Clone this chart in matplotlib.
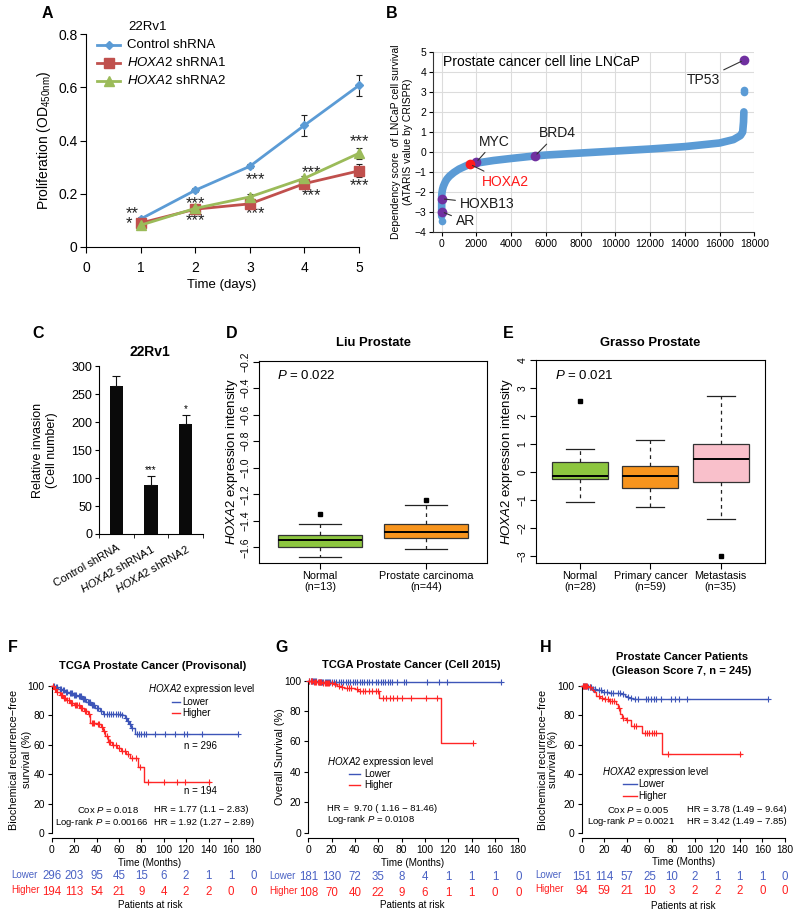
import numpy as np
import matplotlib
matplotlib.use('Agg')
import matplotlib.pyplot as plt
from matplotlib.lines import Line2D
from matplotlib.transforms import blended_transform_factory

plt.rcParams['font.family'] = ['Liberation Sans', 'DejaVu Sans']
plt.rcParams['mathtext.fontset'] = 'custom'
plt.rcParams['mathtext.rm'] = 'Liberation Sans'
plt.rcParams['mathtext.it'] = 'Liberation Sans:italic'
plt.rcParams['mathtext.bf'] = 'Liberation Sans:bold'
plt.rcParams['axes.linewidth'] = 0.8

# ---------------- data ----------------
# A: proliferation
days = [1, 2, 3, 4, 5]
ctrl = [0.105, 0.213, 0.303, 0.457, 0.607]
ctrl_err = [0.008, 0.008, 0.008, 0.040, 0.038]
sh1 = [0.090, 0.142, 0.162, 0.238, 0.286]
sh1_err = [0.010, 0.010, 0.012, 0.012, 0.024]
sh2 = [0.082, 0.145, 0.188, 0.258, 0.352]
sh2_err = [0.008, 0.008, 0.010, 0.010, 0.020]
series_names = ['Control shRNA', r'$\it{HOXA2}$ shRNA1', r'$\it{HOXA2}$ shRNA2']
stars_A = [(0.84, 0.106, '**\n*'),
           (2.0, 0.163, '***'), (2.0, 0.098, '***'),
           (3.1, 0.252, '***'), (3.1, 0.125, '***'),
           (4.13, 0.279, '***'), (4.13, 0.194, '***'),
           (5.0, 0.395, '***'), (5.0, 0.229, '***')]

# B: dependency curve (rank, score)
b_rank = [0, 0, 0, 20, 50, 100, 200, 300, 450, 700, 1000, 1500, 2000, 3000, 4000,
          5300, 6000, 8000, 10000, 12000, 14000, 16000, 16800, 17200, 17330, 17380, 17400]
b_score = [-3.2, -2.6, -2.2, -2.0, -1.85, -1.7, -1.5, -1.35, -1.2, -1.02, -0.85, -0.65,
           -0.55, -0.42, -0.32, -0.2, -0.15, -0.05, 0.05, 0.15, 0.27, 0.45, 0.62, 0.82,
           1.0, 1.5, 2.0]
b_extra_rank = [0, 17400, 17400]
b_extra_score = [-3.45, 3.0, 3.1]
genes = ['TP53', 'MYC', 'BRD4', 'HOXA2', 'HOXB13', 'AR']
gene_rank = [17400, 1980, 5370, 1630, 0, 0]
gene_score = [4.58, -0.52, -0.2, -0.61, -2.33, -2.97]
gene_text_pos = [(15050, 3.6), (3050, 0.52), (6650, 0.93), (3650, -1.47), (2600, -2.58), (1350, -3.45)]
gene_colors = ['#7030a0', '#7030a0', '#7030a0', '#ff1a1a', '#7030a0', '#7030a0']
gene_text_colors = ['#1a1a1a', '#1a1a1a', '#1a1a1a', '#ff1a1a', '#1a1a1a', '#1a1a1a']

# C: invasion
inv_labels = ['Control shRNA', r'$\it{HOXA2}$ shRNA1', r'$\it{HOXA2}$ shRNA2']
invasion = [265, 87, 196]
inv_err = [17, 16, 16]
inv_sig = ['', '***', '*']

# D: Liu Prostate boxplots
d_labels = ['Normal\n(n=13)', 'Prostate carcinoma\n(n=44)']
d_q1 = [-1.597, -1.532]
d_med = [-1.544, -1.484]
d_q3 = [-1.507, -1.426]
d_lo = [-1.670, -1.612]
d_hi = [-1.426, -1.280]
d_out = [[-1.348], [-1.243]]
d_colors = ['#8dc63f', '#f7941d']

# E: Grasso Prostate boxplots
e_labels = ['Normal\n(n=28)', 'Primary cancer\n(n=59)', 'Metastasis\n(n=35)']
e_q1 = [-0.26, -0.58, -0.36]
e_med = [-0.13, -0.13, 0.48]
e_q3 = [0.36, 0.20, 1.00]
e_lo = [-1.06, -1.26, -1.67]
e_hi = [0.82, 1.16, 2.73]
e_out = [[2.52], [], [-3.0]]
e_colors = ['#8dc63f', '#f7941d', '#f9c0cb']

# F: TCGA provisional, biochemical recurrence-free survival
F_low_t = [0, 3, 6, 9, 12, 15, 19, 23, 27, 31, 35, 39, 43, 46, 62, 65, 67, 69, 71, 74]
F_low_s = [100, 99, 98, 97, 96, 95, 94, 93, 91, 89, 87, 85, 83, 81, 80, 78, 76, 74, 71, 67]
F_low_end = 166
F_low_cens = [2, 4, 5, 7, 8, 10, 11, 13, 14, 16, 17, 18, 20, 21, 22, 24, 25, 26, 28, 29, 30,
              32, 33, 34, 36, 37, 38, 40, 41, 44, 47, 49, 51, 53, 55, 57, 59, 61, 63, 66, 68,
              70, 72, 76, 78, 80, 82, 84, 92, 101, 110, 118, 121, 134, 166]
F_high_t = [0, 2, 4, 7, 10, 13, 16, 20, 25, 29, 32, 34, 40, 44, 46, 48, 50, 54, 58, 62, 66, 70, 77, 82]
F_high_s = [100, 98, 96, 94, 92, 90, 88, 87, 85, 83, 81, 75, 74, 72, 69, 66, 62, 60, 58, 56, 54, 51, 45, 35]
F_high_end = 141
F_high_cens = [1, 3, 5, 8, 9, 11, 12, 14, 15, 17, 18, 21, 22, 23, 24, 26, 27, 30, 31, 33, 36, 37,
               38, 41, 42, 45, 47, 49, 51, 52, 55, 57, 60, 63, 65, 68, 72, 75, 79, 86, 100, 112, 119, 140]
F_risk_low = [296, 203, 95, 45, 15, 6, 2, 1, 1, 0]
F_risk_high = [194, 113, 54, 21, 9, 4, 2, 2, 0, 0]

# G: TCGA Cell 2015, overall survival
G_low_t = [0, 8]
G_low_s = [100, 99.4]
G_low_end = 165
G_low_cens = [1, 2, 3, 4, 5, 6, 7, 9, 10, 11, 12, 13, 14, 15, 16, 17, 18, 19, 20, 22, 24, 26,
              28, 30, 32, 34, 36, 38, 40, 42, 44, 46, 48, 50, 52, 55, 58, 60, 62, 64, 66, 68,
              70, 72, 76, 82, 84, 102, 112, 119, 165]
G_high_t = [0, 4, 12, 22, 25, 28, 31, 40, 43, 46, 61, 114]
G_high_s = [100, 99.2, 98.5, 97.6, 96.6, 95.6, 95.0, 94.3, 93.4, 93.0, 88.4, 58.9]
G_high_end = 141
G_high_cens = [1, 2, 3, 5, 6, 7, 8, 9, 10, 11, 13, 14, 15, 16, 17, 18, 20, 23, 26, 29, 33, 35,
               37, 42, 44, 47, 49, 52, 55, 58, 60, 64, 67, 70, 73, 76, 80, 88, 101, 110, 141]
G_risk_low = [181, 130, 72, 35, 8, 4, 1, 1, 1, 0]
G_risk_high = [108, 70, 40, 22, 9, 6, 1, 1, 0, 0]

# H: Gleason 7 patients
H_low_t = [0, 5, 9, 13, 18, 24, 30, 35, 38, 40, 42, 45]
H_low_s = [100, 99, 98, 97, 96, 95.5, 95, 94.5, 93.5, 92.5, 92, 91]
H_low_end = 165
H_low_cens = [1, 2, 3, 4, 6, 7, 8, 10, 12, 15, 17, 20, 22, 26, 28, 32, 34, 37, 41, 44, 47, 50,
              57, 59, 61, 64, 66, 70, 79, 83, 86, 93, 165]
H_high_t = [0, 6, 9, 11, 13, 16, 20, 24, 30, 32, 34, 36, 39, 44, 53, 71]
H_high_s = [100, 99, 97.5, 96, 93.5, 92, 91, 90, 88, 85, 81, 78, 77, 73, 68, 54]
H_high_end = 141
H_high_cens = [1, 2, 3, 4, 5, 7, 15, 18, 21, 23, 25, 27, 29, 33, 37, 40, 46, 48, 56, 58, 60,
               62, 64, 66, 76, 140]
H_risk_low = [151, 114, 57, 25, 10, 2, 1, 1, 1, 0]
H_risk_high = [94, 59, 21, 10, 3, 2, 2, 2, 0, 0]
risk_times = [0, 20, 40, 60, 80, 100, 120, 140, 160, 180]

# ---------------- figure ----------------
W, H = 800, 917
fig = plt.figure(figsize=(W / 100, H / 100), dpi=100)


def add_ax(l, t, r, b):
    return fig.add_axes([l / W, 1 - b / H, (r - l) / W, (b - t) / H])


def ftext(x, y, s, **kw):
    kw.setdefault('ha', 'left')
    kw.setdefault('va', 'center')
    return fig.text(x / W, 1 - y / H, s, **kw)


def fline(x0, x1, y, **kw):
    fig.add_artist(Line2D([x0 / W, x1 / W], [1 - y / H, 1 - y / H], **kw))


def fpoint(x, y, **kw):
    fig.add_artist(Line2D([x / W], [1 - y / H], **kw))


# panel letters
for lt, x, y in [('A', 47, 14), ('B', 392, 14), ('C', 38, 333), ('D', 232, 333),
                 ('E', 508, 333), ('F', 13, 647), ('G', 282, 647), ('H', 546, 647)]:
    ftext(x, y, lt, fontsize=11.5, fontweight='bold', ha='center')

# ---------- A ----------
axA = add_ax(86, 34, 359, 247)
cA = ['#5b9bd5', '#c0504d', '#9bbb59']
mA = ['D', 's', '^']
msA = [4.5, 6.5, 6.5]
for vals, errs, c, m, ms in zip([ctrl, sh1, sh2], [ctrl_err, sh1_err, sh2_err], cA, mA, msA):
    axA.errorbar(days, vals, yerr=errs, color=c, lw=2.0, marker=m, ms=ms, mec=c,
                 ecolor='#222222', elinewidth=0.8, capsize=2.5, capthick=0.8,
                 clip_on=False, zorder=3)
axA.set_xlim(0, 5)
axA.set_ylim(0, 0.8)
axA.set_xticks([0, 1, 2, 3, 4, 5])
axA.set_yticks([0, 0.2, 0.4, 0.6, 0.8])
axA.set_yticklabels(['0', '0.2', '0.4', '0.6', '0.8'])
axA.tick_params(direction='out', length=4, width=0.8, labelsize=10)
axA.tick_params(axis='x', pad=6)
axA.tick_params(axis='y', pad=2)
for s in ['top', 'right']:
    axA.spines[s].set_visible(False)
for x, y, s in stars_A:
    axA.text(x, y, s, ha='center', va='center', fontsize=12, color='#222222',
             multialignment='left', linespacing=0.55)
ftext(44, 140, r'Proliferation (OD$_{\mathrm{450nm}}$)', rotation=90, ha='center', fontsize=10)
ftext(222, 285, 'Time (days)', ha='center', fontsize=9.5)
ftext(128, 27, '22Rv1', fontsize=9.5)
for i, (name, c, m, ms) in enumerate(zip(series_names, cA, mA, msA)):
    y = [45, 63, 81][i]
    fline(97, 120, y, color=c, lw=2.0)
    fpoint(108.5, y, marker=m, ms=ms, color=c)
    ftext(127, y, name, fontsize=9.5)

# ---------- B ----------
axB = add_ax(433, 51.7, 754.3, 232.3)
axB.set_xlim(-500, 18000)
axB.set_ylim(-4, 5)
axB.set_xticks(range(0, 18001, 2000))
axB.set_yticks(range(-4, 6))
axB.grid(True, color='#dcdcdc', lw=0.8)
axB.set_axisbelow(True)
for s in ['top', 'right']:
    axB.spines[s].set_visible(False)
axB.spines['left'].set_color('#333333')
axB.spines['bottom'].set_color('#333333')
axB.tick_params(direction='out', length=3, width=0.8, labelsize=7.5, pad=2)
axB.plot(b_rank, b_score, color='#5b9bd5', lw=5.5, solid_capstyle='round',
         solid_joinstyle='round', zorder=2, clip_on=False)
axB.plot(b_extra_rank, b_extra_score, 'o', color='#5b9bd5', ms=5.5, mec='none', zorder=2,
         clip_on=False)
for g, r, sc, (tx, ty), gc, tc in zip(genes, gene_rank, gene_score, gene_text_pos,
                                      gene_colors, gene_text_colors):
    axB.plot(r, sc, 'o', color=gc, ms=7, mec='none', zorder=4, clip_on=False)
    axB.annotate(g, xy=(r, sc), xytext=(tx, ty), ha='center', va='center', fontsize=10,
                 color=tc, zorder=5,
                 arrowprops=dict(arrowstyle='-', color='#333333', lw=0.8,
                                 shrinkA=1, shrinkB=2))
axB.text(100, 4.5, 'Prostate cancer cell line LNCaP', fontsize=10, va='center', ha='left')
ftext(402, 142, 'Dependency score  of LNCaP cell survival\n(ATARIS value by CRISPR)',
      rotation=90, ha='center', fontsize=7.5, linespacing=1.3)

# ---------- C ----------
axC = add_ax(99, 366, 203, 534)
xc = np.arange(len(invasion))
axC.bar(xc, invasion, width=0.38, color='#0a0a0a',
        yerr=[np.zeros(len(inv_err)), inv_err],
        error_kw=dict(ecolor='#111111', elinewidth=0.8, capsize=3, capthick=0.8))
axC.set_xlim(-0.5, 2.5)
axC.set_ylim(0, 300)
axC.set_yticks(range(0, 301, 50))
axC.set_xticks(xc)
axC.set_xticklabels(inv_labels, rotation=30, ha='right', rotation_mode='anchor', fontsize=8)
axC.set_xticks([-0.5, 0.5, 1.5, 2.5], minor=True)
axC.tick_params(axis='x', which='major', length=0, pad=6)
axC.tick_params(axis='x', which='minor', length=3, direction='out')
axC.tick_params(axis='y', direction='out', length=3, labelsize=9, pad=2)
for s in ['top', 'right']:
    axC.spines[s].set_visible(False)
for x, v, e, s in zip(xc, invasion, inv_err, inv_sig):
    if s:
        axC.text(x, v + e + 3, s, ha='center', va='bottom', fontsize=7)
ftext(150, 352, '22Rv1', fontsize=10, fontweight='bold', ha='center')
ftext(45, 450, 'Relative invasion\n(Cell number)', rotation=90, ha='center', fontsize=9,
      linespacing=1.15)


# ---------- D & E ----------
def box_panel(ax, q1, med, q3, lo, hi, outs, colors):
    stats = [dict(q1=a, med=b, q3=c, whislo=d, whishi=e, fliers=f)
             for a, b, c, d, e, f in zip(q1, med, q3, lo, hi, outs)]
    bp = ax.bxp(stats, positions=list(range(1, len(stats) + 1)), widths=0.8,
                capwidths=0.4, patch_artist=True, showfliers=True,
                boxprops=dict(edgecolor='#333333', lw=0.9),
                medianprops=dict(color='black', lw=1.4),
                whiskerprops=dict(color='#222222', lw=0.9, linestyle=(0, (3, 3))),
                capprops=dict(color='#222222', lw=0.9),
                flierprops=dict(marker='s', ms=2.5, mfc='black', mec='black'))
    for patch, c in zip(bp['boxes'], colors):
        patch.set_facecolor(c)
    ax.tick_params(direction='out', length=4, width=0.8, pad=2)


axD = add_ax(259, 361, 487, 563)
box_panel(axD, d_q1, d_med, d_q3, d_lo, d_hi, d_out, d_colors)
axD.set_xlim(0.42, 2.58)
axD.set_ylim(-1.718, -0.195)
dy = [-1.6, -1.4, -1.2, -1.0, -0.8, -0.6, -0.4, -0.2]
axD.set_yticks(dy)
axD.set_yticklabels(['\u2212%.1f' % abs(v) for v in dy], rotation=90, va='center', fontsize=7.5)
axD.set_xticks([1, 2])
axD.set_xticklabels(d_labels, fontsize=7.8, linespacing=1.1)
ftext(373, 342.5, 'Liu Prostate', fontsize=9.4, fontweight='bold', ha='center')
ftext(277, 375, r'$\it{P}$ = 0.022', fontsize=9.5)
ftext(231.7, 462, r'$\it{HOXA2}$ expression intensity', rotation=90, ha='center', fontsize=9.5)

axE = add_ax(536, 360, 765, 563)
box_panel(axE, e_q1, e_med, e_q3, e_lo, e_hi, e_out, e_colors)
axE.set_xlim(0.374, 3.63)
axE.set_ylim(-3.25, 4.0)
ey = [-3, -2, -1, 0, 1, 2, 3, 4]
axE.set_yticks(ey)
axE.set_yticklabels([('\u2212%d' % abs(v)) if v < 0 else str(v) for v in ey], rotation=90,
                    va='center', fontsize=7.5)
axE.set_xticks([1, 2, 3])
axE.set_xticklabels(e_labels, fontsize=7.8, linespacing=1.1)
ftext(650, 342.5, 'Grasso Prostate', fontsize=9.4, fontweight='bold', ha='center')
ftext(555, 375, r'$\it{P}$ = 0.021', fontsize=9.5)
ftext(507, 462, r'$\it{HOXA2}$ expression intensity', rotation=90, ha='center', fontsize=9.5)

# ---------- KM panels ----------
KB = '#3d55b8'
KR = '#ff2626'


def km_curve(ax, t, s, t_end, cens, color):
    tt = list(t) + [t_end]
    ss = list(s) + [s[-1]]
    ax.step(tt, ss, where='post', color=color, lw=1.0, clip_on=False, zorder=3)
    idx = np.searchsorted(np.array(t), np.array(cens), side='right') - 1
    ax.plot(cens, np.array(s)[idx], '+', color=color, ms=4, mew=0.8, clip_on=False, zorder=3)


def km_axes(l, t, r, b, ybot):
    ax = add_ax(l, t, r, b)
    ax.set_xlim(0, 180)
    ax.set_ylim(ybot, 100)
    ax.set_xticks(range(0, 181, 20))
    ax.set_yticks(range(0, 101, 20))
    ax.spines['left'].set_bounds(0, 100)
    ax.spines['bottom'].set_bounds(0, 180)
    for s in ['top', 'right']:
        ax.spines[s].set_visible(False)
    ax.tick_params(direction='out', length=3, width=0.8, labelsize=7.4, pad=2)
    return ax


def risk_rows(ax, low, high, ylow, yhigh, xlab, yp, xc_lab):
    tr = blended_transform_factory(ax.transData, fig.transFigure)
    for tm, a, b in zip(risk_times, low, high):
        ax.text(tm, 1 - ylow / H, str(a), transform=tr, ha='center', va='center',
                fontsize=8.3, color='#4a62c4', clip_on=False)
        ax.text(tm, 1 - yhigh / H, str(b), transform=tr, ha='center', va='center',
                fontsize=8.3, color='#ff2020', clip_on=False)
    ftext(xlab, ylow - 1.5, 'Lower', fontsize=7, color='#4a62c4')
    ftext(xlab, yhigh - 1.5, 'Higher', fontsize=7, color='#ff2020')
    ftext(xc_lab, yp, 'Patients at risk', fontsize=7.1, ha='center')


def km_legend(xt, yt, xl0, xl1, xtxt, y1, y2):
    ftext(xt, yt, r'$\it{HOXA2}$ expression level', fontsize=7)
    fline(xl0, xl1, y1, color=KB, lw=1.0)
    fline(xl0, xl1, y2, color=KR, lw=1.0)
    ftext(xtxt, y1, 'Lower', fontsize=7)
    ftext(xtxt, y2, 'Higher', fontsize=7)


# F
axF = km_axes(51.7, 685.7, 253.3, 838, -3.2)
km_curve(axF, F_low_t, F_low_s, F_low_end, F_low_cens, KB)
km_curve(axF, F_high_t, F_high_s, F_high_end, F_high_cens, KR)
ftext(153, 666, 'TCGA Prostate Cancer (Provisonal)', fontsize=8, fontweight='bold', ha='center')
ftext(20.5, 759.5, 'Biochemical recurrence\u2212free\nsurvival (%)', rotation=90, ha='center',
      fontsize=7.8, linespacing=1.3)
km_legend(148.3, 689.3, 171.7, 180, 182.7, 701.7, 713.3)
ftext(184.3, 746, 'n = 296', fontsize=7)
ftext(184.3, 791, 'n = 194', fontsize=7)
ftext(76.7, 810, r'Cox $\it{P}$ = 0.018', fontsize=6.8)
ftext(154, 810, 'HR = 1.77 (1.1 \u2212 2.83)', fontsize=6.8)
ftext(55, 822.3, r'Log-rank $\it{P}$ = 0.00166', fontsize=6.8)
ftext(154, 822.3, 'HR = 1.92 (1.27 \u2212 2.89)', fontsize=6.8)
ftext(150, 862.7, 'Time (Months)', fontsize=7.1, ha='center')
risk_rows(axF, F_risk_low, F_risk_high, 876, 891.7, 11, 905, 150)

# G
axG = km_axes(308.3, 680.7, 518.3, 838, -3.5)
km_curve(axG, G_low_t, G_low_s, G_low_end, G_low_cens, KB)
km_curve(axG, G_high_t, G_high_s, G_high_end, G_high_cens, KR)
ftext(411.7, 665, 'TCGA Prostate Cancer (Cell 2015)', fontsize=8, fontweight='bold', ha='center')
ftext(280, 757, 'Overall Survival (%)', rotation=90, ha='center', fontsize=7.8)
km_legend(326.7, 762.3, 349, 360, 364.3, 774, 785)
ftext(326.7, 808.3, 'HR =  9.70 ( 1.16 \u2212 81.46)', fontsize=6.8)
ftext(326.7, 820, r'Log-rank $\it{P}$ = 0.0108', fontsize=6.8)
ftext(412.7, 862.7, 'Time (Months)', fontsize=7.1, ha='center')
risk_rows(axG, G_risk_low, G_risk_high, 877.3, 892.7, 269, 905, 412.7)

# H
axH = km_axes(581.7, 686, 785, 838.3, -3.4)
km_curve(axH, H_low_t, H_low_s, H_low_end, H_low_cens, KB)
km_curve(axH, H_high_t, H_high_s, H_high_end, H_high_cens, KR)
ftext(681.7, 656.7, 'Prostate Cancer Patients', fontsize=8, fontweight='bold', ha='center')
ftext(681.7, 671, '(Gleason Score 7, n = 245)', fontsize=8, fontweight='bold', ha='center')
ftext(547.5, 759.5, 'Biochemical recurrence\u2212free\nsurvival (%)', rotation=90, ha='center',
      fontsize=7.8, linespacing=1.0)
km_legend(601.7, 771.7, 623.3, 636.7, 638.3, 784, 795.7)
ftext(606.7, 810, r'Cox $\it{P}$ = 0.005', fontsize=6.8)
ftext(686.7, 810, 'HR = 3.78 (1.49 \u2212 9.64)', fontsize=6.8)
ftext(586.7, 821.3, r'Log-rank $\it{P}$ = 0.0021', fontsize=6.8)
ftext(686.7, 821.3, 'HR = 3.42 (1.49 \u2212 7.85)', fontsize=6.8)
ftext(683.3, 862.3, 'Time (Months)', fontsize=7.1, ha='center')
risk_rows(axH, H_risk_low, H_risk_high, 876.7, 891, 535, 905.7, 683.3)

fig.savefig('out.png', dpi=100)
